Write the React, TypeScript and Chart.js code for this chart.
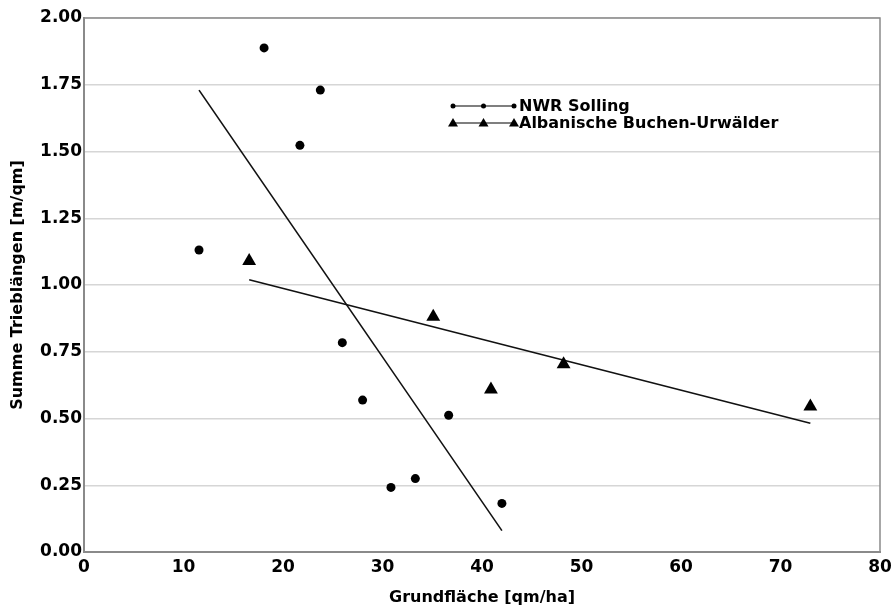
import React, { useEffect, useRef } from "react";
import { Chart, registerables } from "chart.js";

Chart.register(...registerables);

// Data
const solX = [18.1, 23.75, 21.7, 11.56, 25.96, 28.0, 36.65, 30.85, 33.3, 42.0];
const solY = [1.888, 1.73, 1.523, 1.131, 0.784, 0.569, 0.512, 0.242, 0.275, 0.182];
const albX = [16.6, 35.1, 40.9, 48.2, 73.0];
const albY = [1.09, 0.881, 0.609, 0.703, 0.545];
const solTrendX = [11.56, 42.0];
const solTrendY = [1.73, 0.08];
const albTrendX = [16.6, 73.0];
const albTrendY = [1.02, 0.482];
const seriesNames = ["NWR Solling", "Albanische Buchen-Urwälder"];
const xTitle = "Grundfläche [qm/ha]";
const yTitle = "Summe Trieblängen [m/qm]";

const pts = (xs: number[], ys: number[]) => xs.map((x, i) => ({ x, y: ys[i] }));

const FONT = "'DejaVu Sans', Verdana, sans-serif";

const frame = {
  id: "frame",
  afterDatasetsDraw(chart: any) {
    const { ctx, chartArea: a } = chart;
    ctx.save();
    ctx.strokeStyle = "#8a8a8a";
    ctx.lineWidth = 1.5;
    ctx.beginPath();
    ctx.moveTo(a.left, a.top);
    ctx.lineTo(a.right, a.top);
    ctx.lineTo(a.right, a.bottom);
    ctx.stroke();
    ctx.restore();
  },
  afterDraw(chart: any) {
    const { ctx, chartArea: a } = chart;
    ctx.save();
    const x0 = a.left + 369;
    const x1 = a.left + 430;
    const rows = [a.top + 88, a.top + 105];
    ctx.strokeStyle = "#000";
    ctx.fillStyle = "#000";
    ctx.lineWidth = 1.2;
    rows.forEach((y, i) => {
      ctx.beginPath();
      ctx.moveTo(x0, y);
      ctx.lineTo(x1, y);
      ctx.stroke();
      [x0, (x0 + x1) / 2, x1].forEach((mx) => {
        ctx.beginPath();
        if (i === 0) {
          ctx.arc(mx, y, 2.5, 0, Math.PI * 2);
        } else {
          ctx.moveTo(mx, y - 5);
          ctx.lineTo(mx + 5, y + 3.5);
          ctx.lineTo(mx - 5, y + 3.5);
          ctx.closePath();
        }
        ctx.fill();
      });
      ctx.font = `bold 16px ${FONT}`;
      ctx.textBaseline = "middle";
      ctx.textAlign = "left";
      ctx.fillText(seriesNames[i], x1 + 5, y + 1);
    });
    ctx.restore();
  },
};

export default function App() {
  const ref = useRef<HTMLCanvasElement>(null);
  useEffect(() => {
    document.body.style.margin = "0";
    const chart = new Chart(ref.current!, {
      type: "scatter",
      data: {
        datasets: [
          {
            label: seriesNames[0],
            data: pts(solX, solY),
            pointStyle: "circle",
            pointRadius: 4.5,
            backgroundColor: "#000",
            borderColor: "#000",
            borderWidth: 0,
          },
          {
            label: seriesNames[1],
            data: pts(albX, albY),
            pointStyle: "triangle",
            pointRadius: 8,
            backgroundColor: "#000",
            borderColor: "#000",
            borderWidth: 0,
          },
          {
            label: "trend1",
            data: pts(solTrendX, solTrendY),
            showLine: true,
            pointRadius: 0,
            borderColor: "#111",
            borderWidth: 1.6,
          },
          {
            label: "trend2",
            data: pts(albTrendX, albTrendY),
            showLine: true,
            pointRadius: 0,
            borderColor: "#111",
            borderWidth: 1.6,
          },
        ],
      },
      options: {
        animation: false,
        responsive: false,
        layout: { padding: { top: 18, right: 14, left: 0, bottom: 0 } },
        plugins: { legend: { display: false }, tooltip: { enabled: false } },
        scales: {
          x: {
            type: "linear",
            min: 0,
            max: 80,
            ticks: {
              stepSize: 10,
              color: "#000",
              font: { family: FONT, size: 17, weight: "bold" },
              padding: 5,
            },
            grid: { display: false, drawTicks: false },
            border: { color: "#8a8a8a", width: 2 },
            title: {
              display: true,
              text: xTitle,
              color: "#000",
              font: { family: FONT, size: 16, weight: "bold" },
              padding: { top: 6, bottom: 0 },
            },
            afterFit: (s: any) => {
              s.height = 55;
              s.paddingRight = 0;
              s.paddingLeft = 0;
            },
          },
          y: {
            min: 0,
            max: 2,
            ticks: {
              stepSize: 0.25,
              color: "#000",
              callback: (v: any) => Number(v).toFixed(2),
              font: { family: FONT, size: 17, weight: "bold" },
              padding: 2,
            },
            grid: { color: "#d6d6d6", lineWidth: 1.5, drawTicks: false },
            border: { color: "#8a8a8a", width: 2 },
            title: {
              display: true,
              text: yTitle,
              color: "#000",
              font: { family: FONT, size: 16, weight: "bold" },
              padding: { top: 8, bottom: 10 },
            },
            afterFit: (s: any) => {
              s.width = 84;
              s.paddingTop = 0;
              s.paddingBottom = 0;
            },
          },
        },
      },
      plugins: [frame],
    });
    return () => chart.destroy();
  }, []);
  return (
    <div style={{ position: "fixed", left: 0, top: 0, width: 894, height: 607, background: "#fff" }}>
      <canvas ref={ref} width={894} height={607} />
    </div>
  );
}
